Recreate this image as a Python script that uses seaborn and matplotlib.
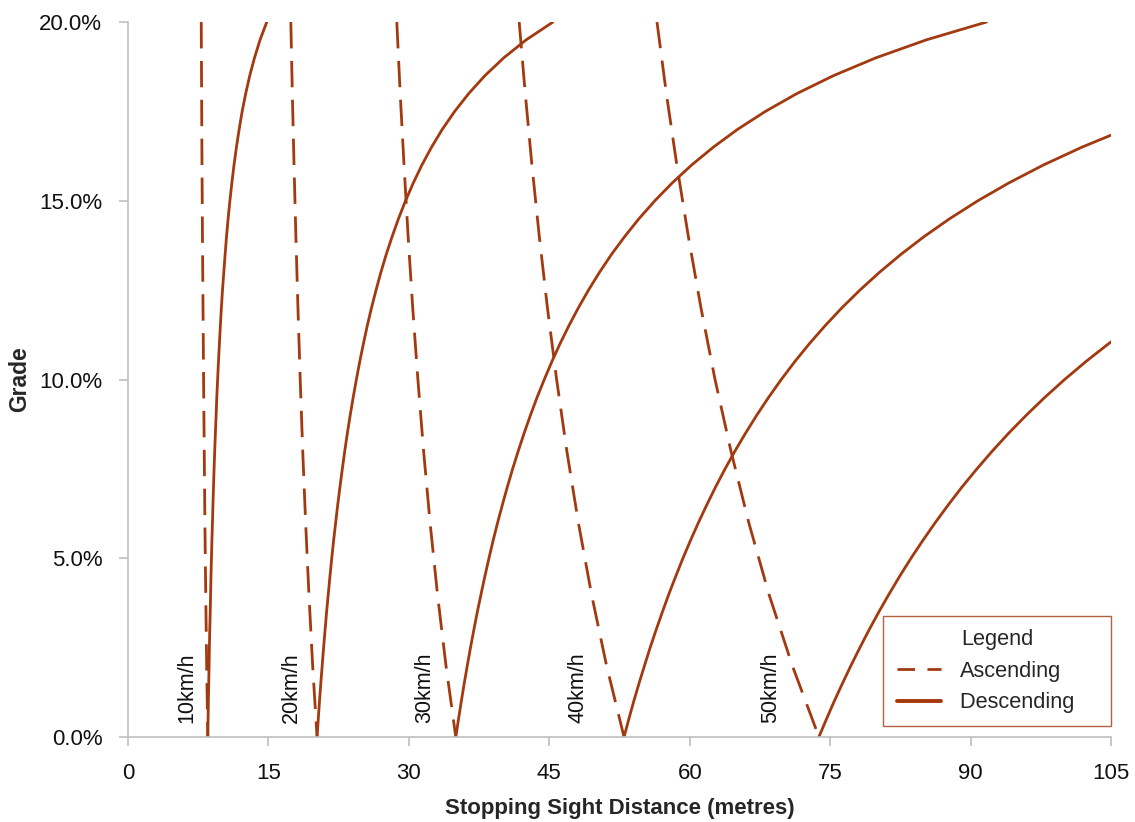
import pandas as pd
import matplotlib
matplotlib.use("Agg")
import matplotlib.pyplot as plt
import seaborn as sns
from matplotlib.lines import Line2D
from matplotlib.ticker import PercentFormatter

# grades (as fraction) for the ascending and descending curves
grade_asc = [0.00, 0.02, 0.04, 0.06, 0.08, 0.10, 0.12, 0.14, 0.16, 0.18, 0.20]
grade_desc = [0.000, 0.005, 0.010, 0.015, 0.020, 0.025, 0.030, 0.035, 0.040, 0.045,
              0.050, 0.055, 0.060, 0.065, 0.070, 0.075, 0.080, 0.085, 0.090, 0.095,
              0.100, 0.105, 0.110, 0.115, 0.120, 0.125, 0.130, 0.135, 0.140, 0.145,
              0.150, 0.155, 0.160, 0.165, 0.170, 0.175, 0.180, 0.185, 0.190, 0.195, 0.200]

speeds = ['10km/h', '20km/h', '30km/h', '40km/h', '50km/h']

# stopping sight distance (m)
asc_10 = [8.52, 8.40, 8.30, 8.21, 8.14, 8.07, 8.01, 7.95, 7.90, 7.86, 7.82]
asc_20 = [20.19, 19.72, 19.32, 18.97, 18.66, 18.39, 18.15, 17.93, 17.73, 17.55, 17.39]
asc_30 = [35.01, 33.96, 33.05, 32.26, 31.57, 30.96, 30.41, 29.92, 29.48, 29.07, 28.71]
asc_40 = [52.98, 51.11, 49.50, 48.10, 46.87, 45.78, 44.80, 43.93, 43.14, 42.43, 41.78]
asc_50 = [73.80, 70.95, 68.45, 66.30, 64.40, 62.70, 61.20, 59.85, 58.62, 57.50, 56.50]

desc_10 = [8.52, 8.55, 8.58, 8.62, 8.66, 8.69, 8.73, 8.78, 8.82, 8.86,
           8.91, 8.96, 9.02, 9.07, 9.13, 9.19, 9.26, 9.33, 9.41, 9.48,
           9.57, 9.66, 9.76, 9.86, 9.97, 10.09, 10.23, 10.37, 10.52, 10.69,
           10.88, 11.09, 11.32, 11.58, 11.87, 12.19, 12.57, 13.00, 13.51, 14.10, 14.82]
desc_20 = [20.19, 20.32, 20.45, 20.59, 20.74, 20.89, 21.05, 21.21, 21.39, 21.57,
           21.76, 21.96, 22.18, 22.40, 22.64, 22.89, 23.15, 23.43, 23.73, 24.05,
           24.39, 24.75, 25.14, 25.55, 26.00, 26.49, 27.01, 27.58, 28.21, 28.89,
           29.64, 30.47, 31.39, 32.42, 33.57, 34.89, 36.39, 38.12, 40.14, 42.52, 45.39]
desc_30 = [35.01, 35.30, 35.60, 35.91, 36.24, 36.58, 36.94, 37.31, 37.71, 38.12,
           38.55, 39.00, 39.48, 39.99, 40.52, 41.08, 41.68, 42.31, 42.98, 43.69,
           44.46, 45.27, 46.14, 47.08, 48.09, 49.18, 50.36, 51.64, 53.05, 54.58,
           56.27, 58.13, 60.20, 62.52, 65.12, 68.08, 71.45, 75.35, 79.89, 85.26, 91.70]
desc_40 = [52.98, 53.49, 54.02, 54.58, 55.17, 55.77, 56.41, 57.08, 57.77, 58.51,
           59.27, 60.08, 60.93, 61.83, 62.77, 63.77, 64.83, 65.96, 67.15, 68.42,
           69.77, 71.22, 72.77, 74.44, 76.23, 78.17, 80.27, 82.55, 85.04, 87.77,
           90.77, 94.09, 97.77, 101.89, 106.52]
desc_50 = [73.79, 74.60, 75.43, 76.31, 77.22, 78.17, 79.16, 80.20, 81.29, 82.43,
           83.63, 84.90, 86.23, 87.63, 89.10, 90.67, 92.32, 94.07, 95.94, 97.92,
           100.04, 102.30, 104.73, 107.33]

label_x = [6.3, 17.5, 31.7, 48.1, 68.6]

color = '#A3390E'

rows = []
for spd, a, d in zip(speeds, [asc_10, asc_20, asc_30, asc_40, asc_50],
                     [desc_10, desc_20, desc_30, desc_40, desc_50]):
    for g, x in zip(grade_asc, a):
        rows.append((spd + ' asc', 'Ascending', x, g))
    for g, x in zip(grade_desc, d):
        rows.append((spd + ' desc', 'Descending', x, g))
df = pd.DataFrame(rows, columns=['curve', 'direction', 'distance', 'grade'])

sns.set_style('white')
plt.rcParams['font.family'] = ['Liberation Sans', 'DejaVu Sans']

fig = plt.figure(figsize=(11.35, 8.22), dpi=100)
ax = fig.add_axes([0.1128, 0.1034, 0.8661, 0.8698])

lw = 2.0
dash = (9.5, 4.5)
sns.lineplot(data=df, x='distance', y='grade', units='curve', style='direction',
             estimator=None, color=color, linewidth=lw,
             dashes={'Ascending': dash, 'Descending': ''}, legend=False, ax=ax)

for spd, lx in zip(speeds, label_x):
    ax.text(lx, 0.004, spd, rotation=90, ha='center', va='bottom', fontsize=15.5, color='#111111')

ax.set_xlim(0, 105)
ax.set_ylim(0, 0.20)
ax.set_xticks(range(0, 106, 15))
ax.set_yticks([0, 0.05, 0.10, 0.15, 0.20])
ax.yaxis.set_major_formatter(PercentFormatter(xmax=1, decimals=1))

for s in ['top', 'right']:
    ax.spines[s].set_visible(False)
for s in ['left', 'bottom']:
    ax.spines[s].set_color('#BFBFBF')
    ax.spines[s].set_linewidth(1.2)
ax.tick_params(axis='both', which='major', length=6.5, width=1.2, color='#BFBFBF',
               labelsize=16, labelcolor='#111111', direction='out', pad=12)
ax.tick_params(left=True, bottom=True)

ax.set_xlabel('Stopping Sight Distance (metres)', fontsize=16, fontweight='bold', labelpad=10)
ax.set_ylabel('Grade', fontsize=16.5, fontweight='bold', labelpad=6)

handles = [Line2D([], [], color=color, linewidth=lw, linestyle=(0, (6.3, 4.5))),
           Line2D([], [], color=color, linewidth=2.8)]
leg = ax.legend(handles, ['Ascending', 'Descending    '], title='Legend', loc='lower right',
                bbox_to_anchor=(1.0, 0.015), borderaxespad=0, fontsize=15.7, title_fontsize=15.7,
                fancybox=False, frameon=True, handlelength=2.06, borderpad=0.6,
                labelspacing=0.48, handletextpad=0.83)
leg.get_frame().set_edgecolor(color)
leg.get_frame().set_linewidth(1.0)

fig.savefig('out.png', dpi=100)
